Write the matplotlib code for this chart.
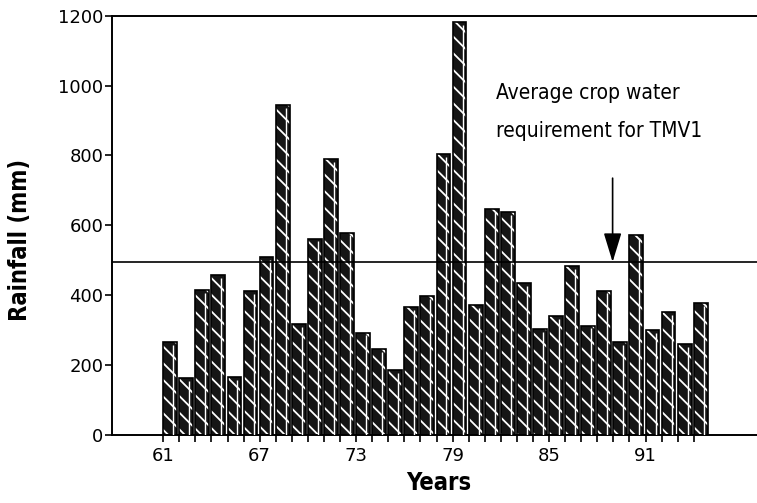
import matplotlib
matplotlib.use("Agg")
import matplotlib.pyplot as plt

years = list(range(1961, 1995))
rainfall = [265, 163, 415, 458, 165, 411, 508, 945, 317, 562,
            790, 579, 293, 246, 185, 365, 397, 803, 1181, 371,
            646, 637, 434, 303, 341, 484, 313, 413, 266, 572,
            300, 351, 260, 377]
requirement = 495
tick_years = list(range(1961, 1995))
label_years = [1961, 1967, 1973, 1979, 1985, 1991]
label_texts = ["61", "67", "73", "79", "85", "91"]
y_ticks = [0, 200, 400, 600, 800, 1000, 1200]
annotation_lines = ["Average crop water", "requirement for TMV1"]
arrow_year = 1988.95

plt.rcParams["hatch.linewidth"] = 1.3

fig = plt.figure(figsize=(7.57, 5.03), dpi=100)
ax = fig.add_axes([0.1476, 0.1352, 0.8524, 0.8336])

w = 0.86
ax.bar(years, rainfall, width=w, align="edge", color="#151515",
       edgecolor="white", hatch="\\\\", linewidth=0, zorder=2)
ax.bar(years, rainfall, width=w, align="edge", fill=False,
       edgecolor="black", linewidth=1.2, zorder=3)
ax.vlines([y + 0.72 * w for y in years], 0, [r - 8 for r in rainfall],
          colors="white", linewidth=1.0, zorder=3)

ax.axhline(requirement, color="black", linewidth=1.2, zorder=4)

ax.set_xlim(1957.8, 1997.93)
ax.set_ylim(0, 1200)

ax.set_xticks(tick_years)
ax.set_xticklabels([label_texts[label_years.index(t)] if t in label_years else ""
                    for t in tick_years])
ax.set_yticks(y_ticks)
ax.set_yticklabels([str(v) for v in y_ticks])
ax.tick_params(axis="x", direction="out", length=5, width=1.2, pad=4,
               labelsize=13)
ax.tick_params(axis="y", direction="out", length=5, width=1.2, pad=1,
               labelsize=13)
for lab in ax.get_xticklabels() + ax.get_yticklabels():
    lab.set_family("DejaVu Sans")

for s in ["left", "bottom", "top"]:
    ax.spines[s].set_linewidth(1.4)
ax.spines["right"].set_visible(False)

ax.set_xlabel("Years", family="DejaVu Sans", fontstretch="condensed",
              fontweight="bold", fontsize=17)
ax.set_ylabel("Rainfall (mm)", family="DejaVu Sans", fontstretch="condensed",
              fontweight="bold", fontsize=17)
ax.xaxis.set_label_coords(0.506, -0.085)
ax.yaxis.set_label_coords(-0.124, 0.465)

for line, yv in zip(annotation_lines, [962, 853]):
    ax.text(1981.7, yv, line, family="DejaVu Sans", fontstretch="condensed",
            fontsize=15, ha="left", va="baseline", zorder=5)
ax.annotate("", xy=(arrow_year, requirement), xytext=(arrow_year, 735),
            arrowprops=dict(arrowstyle="-|>,head_length=1.8,head_width=0.55",
                            color="black", lw=1.2, shrinkA=0, shrinkB=0),
            zorder=5)

fig.savefig("out.png", dpi=100)
